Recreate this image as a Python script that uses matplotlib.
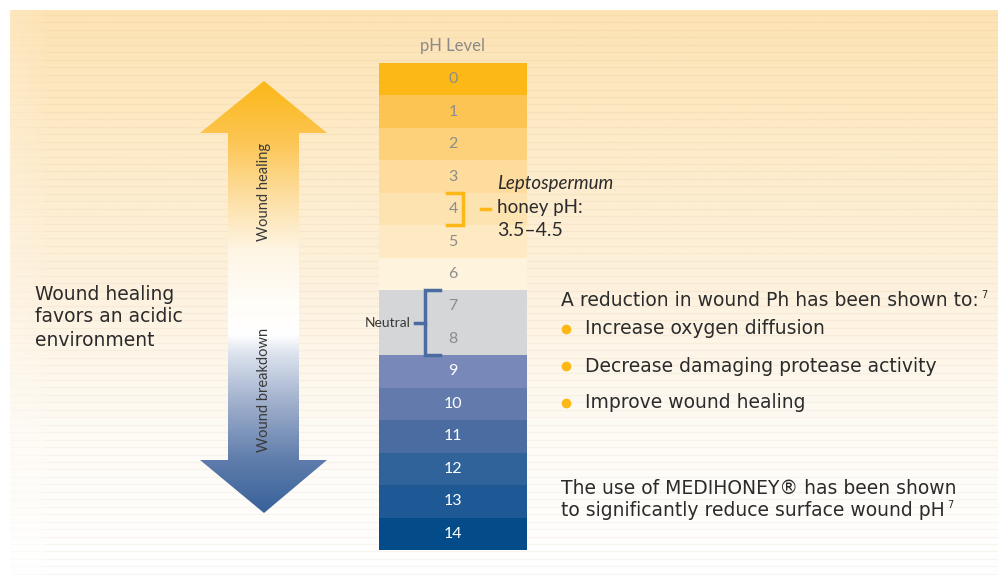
"""
pH scale chart: wound healing vs wound breakdown
"""

import numpy as np
import matplotlib.pyplot as plt
from matplotlib.colors import LinearSegmentedColormap, to_rgb
from matplotlib.patches import Polygon

# data
ph_levels = list(range(15))
ph_colors = ['#fbb817', '#fcc452', '#fdd07a', '#fddc9e', '#fde3b0', '#feeac2', '#fef3dc',
             '#d5d6d8', '#d5d6d8', '#7889b9', '#627bac', '#4b6ca1', '#2f639a', '#1e5895', '#044b8a']
honey_range = (3.5, 4.5)
neutral_range = (7, 8)
left_lines = ['Wound healing', 'favors an acidic', 'environment']
bullet_intro = 'A reduction in wound Ph has been shown to:'
bullets = ['Increase oxygen diffusion', 'Decrease damaging protease activity', 'Improve wound healing']
closing_lines = ['The use of MEDIHONEY\u00ae has been shown', 'to significantly reduce surface wound pH']
footnote = '7'

W, H = 998, 576
fig = plt.figure(figsize=(W / 100, H / 100), dpi=100)
ax = fig.add_axes([0, 0, 1, 1])
ax.set_xlim(0, W)
ax.set_ylim(H, 0)
ax.axis('off')

# background panel: warm gradient fading to white, faint ruled lines
bg = LinearSegmentedColormap.from_list('bg', ['#fde3b4', '#fdebc9', '#fdf2df', '#fefbf5', '#ffffff'])
grad = np.linspace(0, 1, 256).reshape(-1, 1)
ax.imshow(grad, cmap=bg, extent=[10, W, H, 10], aspect='auto', zorder=0)
# slightly lighter strip on the left edge
edge = np.ones((256, 40, 4))
edge[..., 3] = np.tile(np.linspace(0.15, 0, 40), (256, 1))
ax.imshow(edge, extent=[10, 50, H, 10], aspect='auto', zorder=0.5)
for y in np.arange(15, H, 7.45):
    ax.hlines(y, 45, W, color='#b08850', alpha=0.07, lw=0.8, zorder=1)
    ax.hlines(y, 10, 45, color='#b08850', alpha=0.03, lw=0.8, zorder=1)

body = ['DejaVu Sans']
geo = ['Lato', 'DejaVu Sans']
text_col = '#2b2b2b'
body_fs = 13.5

# pH bar
bar_x, bar_w = 453, 148
bar_top, bar_bot = 63, 550
row_h = (bar_bot - bar_top) / len(ph_levels)
for lvl, col in zip(ph_levels, ph_colors):
    ax.bar(bar_x, row_h, bottom=bar_top + lvl * row_h, width=bar_w, color=col, zorder=2)
    tcol = 'white' if lvl >= 9 else '#8c8c8c'
    ax.text(bar_x, bar_top + (lvl + 0.5) * row_h, str(lvl), ha='center', va='center',
            fontsize=11.5, color=tcol, family=geo, zorder=3)
ax.text(bar_x, 46, 'pH Level', ha='center', va='center', fontsize=12, color='#8a8a8a', family=geo)


def ph_y(v):
    return bar_top + (v + 0.5) * row_h


def add_footnote(txt):
    ax.annotate(footnote, xy=(1, 1), xycoords=txt, xytext=(2, 1), textcoords='offset points',
                fontsize=7, color=text_col, va='top', ha='left', family=body)


# honey bracket (orange)
orange = '#fbb817'
y0, y1 = ph_y(honey_range[0]), ph_y(honey_range[1])
ax.plot([447, 463, 463, 447], [y0, y0, y1, y1], color=orange, lw=2.5, solid_joinstyle='miter', zorder=4)
ax.plot([481, 490], [(y0 + y1) / 2] * 2, color=orange, lw=2.5, zorder=4)
ax.text(497, 184, 'Leptospermum', fontsize=13.5, style='italic', color=text_col, va='center', family=geo)
ax.text(497, 208, 'honey pH:', fontsize=13.5, color=text_col, va='center', family=geo)
ax.text(497, 231, f'{honey_range[0]}\u2013{honey_range[1]}', fontsize=14, color=text_col,
        va='center', family=geo)

# neutral bracket (blue)
blue = '#4b6ca1'
n0, n1 = ph_y(neutral_range[0] - 0.5), ph_y(neutral_range[1] + 0.5)
ax.plot([440, 425, 425, 440], [n0, n0, n1, n1], color=blue, lw=2.5, solid_joinstyle='miter', zorder=4)
ax.plot([415, 425], [(n0 + n1) / 2] * 2, color=blue, lw=2.5, zorder=4)
ax.text(411, (n0 + n1) / 2, 'Neutral', ha='right', va='center', fontsize=10, color='#3a3a3a', family=geo, zorder=4)

# double arrow with gradient fill
cx, tip_top, tip_bot = 264, 81, 513
head_l, head_r = 200, 327
shaft_l, shaft_r = 228, 299
base_top, base_bot = 133, 460
verts = [(cx, tip_top), (head_r, base_top), (shaft_r, base_top), (shaft_r, base_bot), (head_r, base_bot),
         (cx, tip_bot), (head_l, base_bot), (shaft_l, base_bot), (shaft_l, base_top), (head_l, base_top)]
arrow = Polygon(verts, closed=True, facecolor='none', edgecolor='none', transform=ax.transData)
ax.add_patch(arrow)
stops = [(81, '#fbb817'), (140, '#fcc552'), (200, '#fde0a6'), (250, '#fef5e4'), (300, '#fffdf8'),
         (335, '#ffffff'), (352, '#dfe5ef'), (395, '#a9b7d1'), (460, '#5f7dac'), (513, '#38629a')]
ys = np.arange(tip_top, tip_bot + 1)
stop_y = [s[0] for s in stops]
stop_rgb = np.array([to_rgb(s[1]) for s in stops])
img = np.stack([np.interp(ys, stop_y, stop_rgb[:, k]) for k in range(3)], axis=-1).reshape(-1, 1, 3)
im = ax.imshow(img, extent=[head_l, head_r, tip_bot, tip_top], aspect='auto', zorder=2)
im.set_clip_path(arrow)
ax.text(cx, 192, 'Wound healing', rotation=90, ha='center', va='center', fontsize=10.5,
        color='#3a3a3a', family=geo, zorder=3)
ax.text(cx, 390, 'Wound breakdown', rotation=90, ha='center', va='center', fontsize=10.5,
        color='#3a3a3a', family=geo, zorder=3)

# left caption
for i, line in enumerate(left_lines):
    ax.text(35, 294 + i * 23, line, fontsize=body_fs, color=text_col, va='center', family=body)

# right-hand text
intro = ax.text(561, 301, bullet_intro, fontsize=body_fs, color=text_col, va='center', family=body)
add_footnote(intro)
for i, b in enumerate(bullets):
    y = 329 + i * 37
    ax.plot(566, y, 'o', color=orange, ms=6, zorder=4)
    ax.text(585, y, b, fontsize=body_fs, color=text_col, va='center', family=body)
for i, line in enumerate(closing_lines):
    t = ax.text(561, 488 + i * 23, line, fontsize=body_fs, color=text_col, va='center', family=body)
add_footnote(t)

fig.savefig('out.png', dpi=100)
